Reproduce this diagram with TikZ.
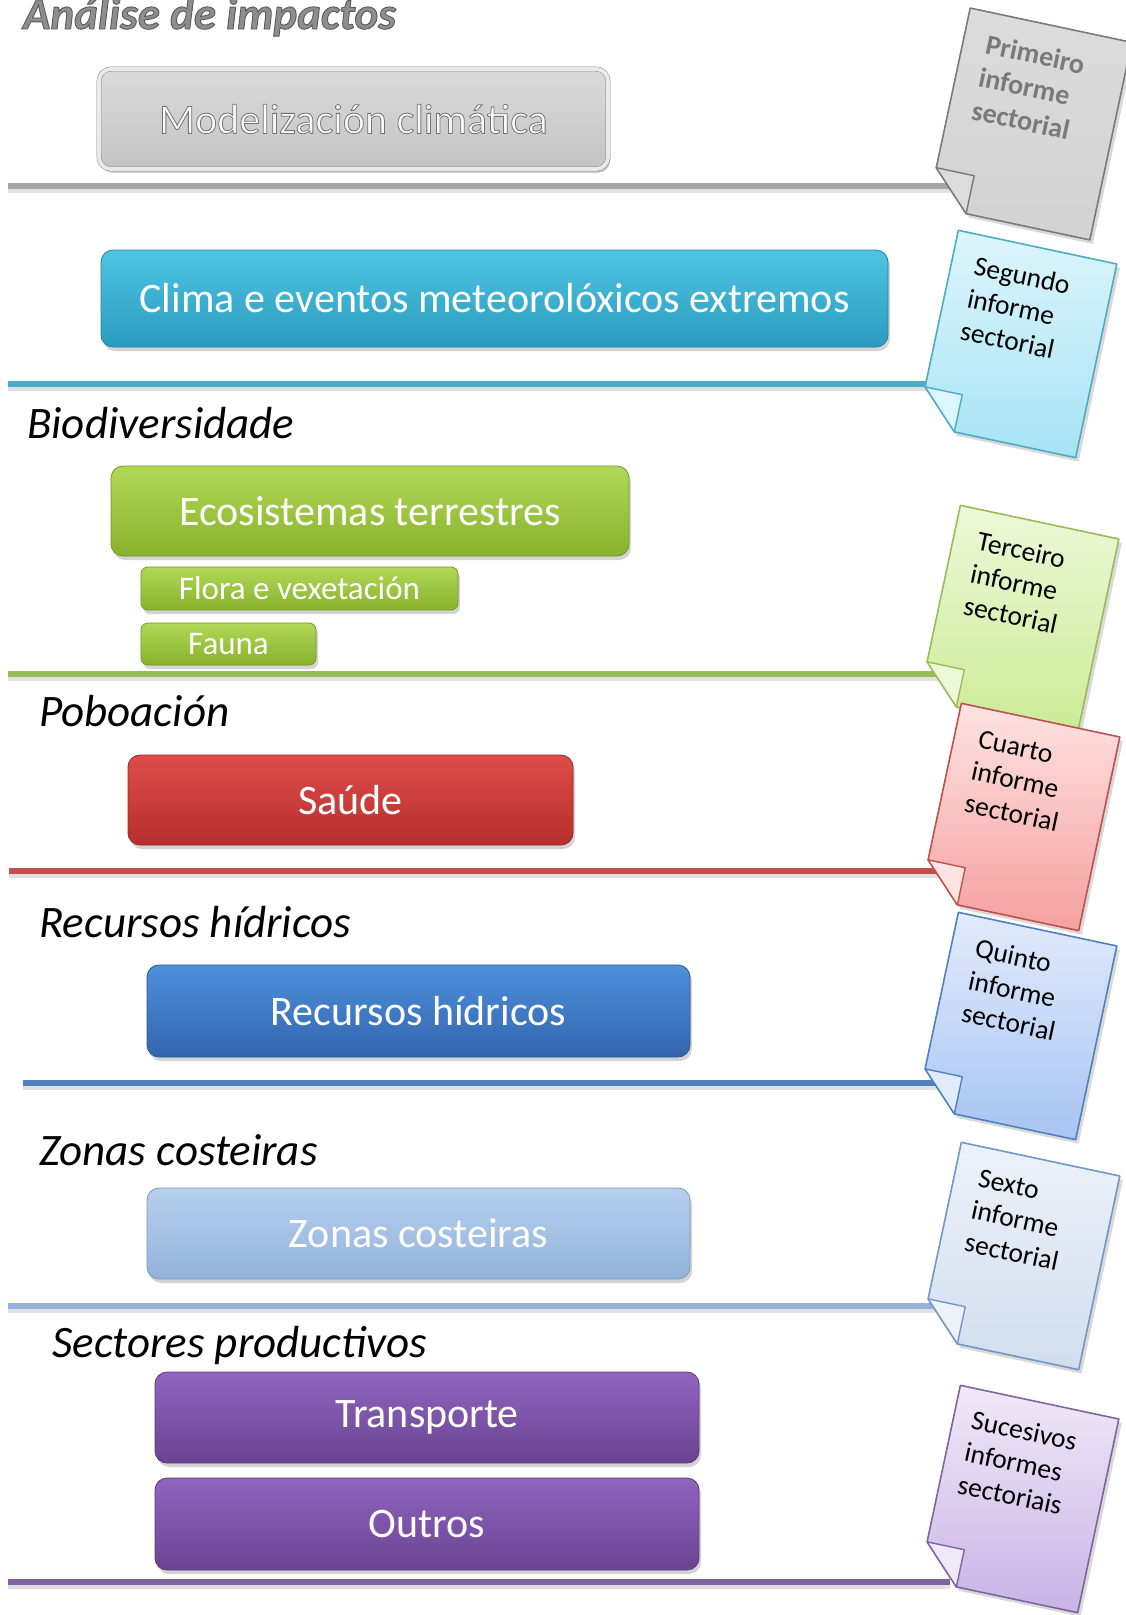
\documentclass[tikz,border=0pt]{standalone}
\usepackage{fontspec}
\setmainfont{Carlito}
\usetikzlibrary{shadows}
% line colours
\definecolor{lgrey}{HTML}{A6A6A6}
\definecolor{lcyan}{HTML}{4BACC6}
\definecolor{lgreen}{HTML}{9BBB59}
\definecolor{lred}{HTML}{C0504D}
\definecolor{lblue}{HTML}{4F81BD}
\definecolor{llblue}{HTML}{95B3D7}
\definecolor{lpurple}{HTML}{8064A2}
% box colours
\definecolor{gtop}{HTML}{DADADA}\definecolor{gbot}{HTML}{C4C4C4}
\definecolor{ctop}{HTML}{4FC4E4}\definecolor{cbot}{HTML}{2A9BBE}
\definecolor{grtop}{HTML}{B0D856}\definecolor{grbot}{HTML}{88B22C}
\definecolor{rtop}{HTML}{DE4C49}\definecolor{rbot}{HTML}{B62F2C}
\definecolor{btop}{HTML}{4E90DB}\definecolor{bbot}{HTML}{3365AE}
\definecolor{lbtop}{HTML}{B6D0EE}\definecolor{lbbot}{HTML}{92B2DA}
\definecolor{ptop}{HTML}{9064C0}\definecolor{pbot}{HTML}{6A4491}
% paper colours
\definecolor{p1t}{HTML}{DCDCDC}\definecolor{p1b}{HTML}{D2D2D2}\definecolor{p1d}{HTML}{7A7A7A}
\definecolor{p2t}{HTML}{DDF5FC}\definecolor{p2b}{HTML}{A6E3F5}
\definecolor{p3t}{HTML}{EDF8D8}\definecolor{p3b}{HTML}{CBEB96}
\definecolor{p4t}{HTML}{FDE3E2}\definecolor{p4b}{HTML}{F5A09E}
\definecolor{p5t}{HTML}{E2EBFB}\definecolor{p5b}{HTML}{A7C4F3}
\definecolor{p6t}{HTML}{EDF2F9}\definecolor{p6b}{HTML}{D1DDEE}\definecolor{p6d}{HTML}{7196C8}
\definecolor{p7t}{HTML}{F0E9F8}\definecolor{p7b}{HTML}{C8B3E5}

\newcommand{\paperdoc}[8]{%
  \begin{scope}[shift={(#1,#2)}, rotate=-12, scale=#8]
    \path[drop shadow={opacity=0.3,shadow xshift=3pt,shadow yshift=-4pt},
          top color=#3, bottom color=#4, draw=#5, line width=1.6pt, line join=round]
      (-81,-99) -- (81,-99) -- (81,99) -- (-43,99) -- (-81,61) -- cycle;
    \path[fill=#3, draw=#5, line width=1.4pt, line join=round]
      (-81,61) -- (-43,61) -- (-43,99) -- cycle;
    \node[papertext, transform shape] (#7) at (-9,-35) {#6};
  \end{scope}}

\begin{document}
\begin{tikzpicture}[x=1pt,y=-1pt,
  box/.style={rounded corners=12pt, inner sep=0pt, text=white,
    font=\fontsize{42}{48}\selectfont,
    drop shadow={opacity=0.35,shadow xshift=2pt,shadow yshift=-4pt}},
  smallbox/.style={box, rounded corners=7pt, font=\fontsize{33}{36}\selectfont},
  label/.style={anchor=base west, inner sep=0pt, font=\fontsize{45}{50}\selectfont\itshape},
  sepline/.style={line width=6pt},
  sepshadow/.style={line width=6pt, black, opacity=0.12},
  papertext/.style={align=left, inner sep=0pt, font=\fontsize{27.5}{33}\selectfont}
]
\useasboundingbox (0,0) rectangle (1125,1615);

% title
\node[anchor=base west, inner sep=0pt, text=p1d!85!white,
  font=\fontsize{45}{50}\selectfont\bfseries\itshape] (title) at (23,29)
  {\special{pdf:literal direct 2 Tr 0.35 G 0.9 w}Análise de impactos\special{pdf:literal direct 0 Tr}};

% separator lines (shadow + line)
\foreach \yy/\xs/\cc in {186/8/lgrey, 384/8/lcyan, 674/8/lgreen, 871/9/lred, 1083/23/lblue, 1306/8/llblue, 1582/8/lpurple}{
  \coordinate (l\yy a) at (\xs,\yy);
  \coordinate (l\yy b) at (950,\yy);
  \draw[sepshadow] ([yshift=-4pt]l\yy a) -- ([yshift=-4pt]l\yy b);
  \draw[sepline, draw=\cc] (l\yy a) -- (l\yy b);
}

% section labels
\node[label] (lbio) at (27,438) {Biodiversidade};
\node[label] (lpob) at (39,726) {Poboación};
\node[label] (lrh) at (39,937) {Recursos hídricos};
\node[label] (lzc) at (39,1165) {Zonas costeiras};
\node[label] (lsp) at (52,1357) {Sectores productivos};

% boxes
\node[box, minimum width=509, minimum height=100, top color=gtop, bottom color=gbot,
  draw=p1d, double=gtop!60!white, double distance=4pt, text=white!96!gray,
  drop shadow={opacity=0.2,shadow xshift=2pt,shadow yshift=-3pt}]
  (model) at (353.5,119) {\special{pdf:literal direct 2 Tr 0.45 G 0.8 w}Modelización climática\special{pdf:literal direct 0 Tr}};
\node[box, minimum width=787, minimum height=97, top color=ctop, bottom color=cbot, draw=cbot!85!black, line width=0.8pt]
  (clima) at (494.5,298.5) {Clima e eventos meteorolóxicos extremos};
\node[box, minimum width=518, minimum height=90, top color=grtop, bottom color=grbot, draw=grbot!85!black, line width=0.8pt]
  (eco) at (370,511) {Ecosistemas terrestres};
\node[smallbox, minimum width=317, minimum height=43, top color=grtop, bottom color=grbot, draw=grbot!85!black, line width=0.8pt]
  (flora) at (299.5,588.5) {Flora e vexetación};
\node[smallbox, minimum width=175, minimum height=42, top color=grtop, bottom color=grbot, draw=grbot!85!black, line width=0.8pt]
  (fauna) at (228.5,644) {Fauna};
\node[box, minimum width=445, minimum height=90, top color=rtop, bottom color=rbot, draw=rbot!85!black, line width=0.8pt]
  (saude) at (350.5,800) {Saúde};
\node[box, minimum width=543, minimum height=92, top color=btop, bottom color=bbot, draw=bbot!85!black, line width=0.8pt]
  (rh) at (418.5,1011) {Recursos hídricos};
\node[box, minimum width=543, minimum height=91, top color=lbtop, bottom color=lbbot, draw=lbbot!85!black, line width=0.8pt]
  (zc) at (418.5,1233.5) {Zonas costeiras};
\node[box, minimum width=544, minimum height=91, top color=ptop, bottom color=pbot, draw=pbot!85!black, line width=0.8pt]
  (transp) at (427,1417.5) {Transporte};
\node[box, minimum width=544, minimum height=92, top color=ptop, bottom color=pbot, draw=pbot!85!black, line width=0.8pt]
  (outros) at (427,1524) {Outros};

% report papers
\paperdoc{1030}{124}{p1t}{p1b}{p1d}{\bfseries\color{p1d}Primeiro\\\bfseries\color{p1d}informe\\\bfseries\color{p1d}sectorial}{doc1}{1.02}
\paperdoc{1017}{344}{p2t}{p2b}{lcyan}{Segundo\\informe\\sectorial}{doc2}{1}
\paperdoc{1019}{619}{p3t}{p3b}{lgreen}{Terceiro\\informe\\sectorial}{doc3}{1}
\paperdoc{1020}{817}{p4t}{p4b}{lred}{Cuarto\\informe\\sectorial}{doc4}{1}
\paperdoc{1017}{1026}{p5t}{p5b}{lblue}{Quinto\\informe\\sectorial}{doc5}{1}
\paperdoc{1020}{1256}{p6t}{p6b}{p6d}{Sexto\\informe\\sectorial}{doc6}{1}
\paperdoc{1019}{1499}{p7t}{p7b}{lpurple}{Sucesivos\\informes\\sectoriais}{doc7}{1}
\end{tikzpicture}
\end{document}
